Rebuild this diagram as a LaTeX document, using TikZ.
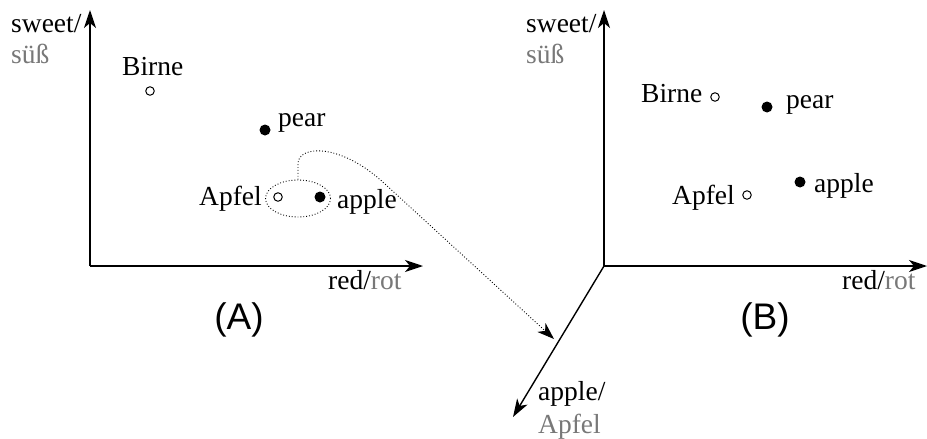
\documentclass[tikz,border=0pt]{standalone}
\usepackage{fontspec}
\setmainfont{Liberation Serif}
\newfontfamily\panelfont{Liberation Sans}
\usetikzlibrary{arrows.meta,shapes.geometric}
\definecolor{de}{gray}{0.47}
\tikzset{
  lbl/.style={anchor=base west,inner sep=0pt,font=\fontsize{27.5}{32}\selectfont},
  panel/.style={inner sep=0pt,font=\panelfont\fontsize{37}{42}\selectfont},
  axis/.style={line width=1.4pt,-{Stealth[length=18pt,width=12pt,inset=5pt]}},
  word/.style={circle,draw,line width=1pt,fill=white,minimum size=8.5pt,inner sep=0pt},
  wordfill/.style={circle,fill=black,minimum size=11pt,inner sep=0pt},
  link/.style={dotted,line width=0.9pt,-{Stealth[length=17pt,width=12pt,inset=5pt]}},
}
\begin{document}
\begin{tikzpicture}[x=1pt,y=-1pt]
\useasboundingbox (0,0) rectangle (927,439);

% ---- (A): two separate spaces
\coordinate (oA) at (90,266);
\coordinate (yA) at (90,10);
\coordinate (xA) at (423,266);
\draw[axis] (oA) -- (yA);
\draw[axis] (oA) -- (xA);
\node[lbl] (sweetA) at (11,32) {sweet/};
\node[lbl,text=de] (suesA) at (11,63) {süß};
\node[lbl] (redA) at (328,289) {red/\textcolor{de}{rot}};
\node[panel] (capA) at (239,320) {(A)};

\node[word] (birneA) at (150,91) {};
\node[lbl] (birneAt) at (122,75) {Birne};
\node[wordfill] (pearA) at (265,130) {};
\node[lbl] (pearAt) at (278,126) {pear};
\node[ellipse,draw,dotted,line width=0.9pt,minimum width=65pt,minimum height=37pt,inner sep=0pt] (grp) at (298,198.5) {};
\node[word] (apfelA) at (278,197) {};
\node[lbl] (apfelAt) at (199,205) {Apfel};
\node[wordfill] (appleA) at (320,197) {};
\node[lbl] (appleAt) at (337,208) {apple};

% ---- (B): shared space with a third axis
\coordinate (oB) at (604,266);
\coordinate (yB) at (604,10);
\coordinate (xB) at (927,266);
\coordinate (zB) at (513,417);
\draw[axis] (oB) -- (yB);
\draw[axis] (oB) -- (xB);
\draw[axis] (oB) -- (zB);
\node[lbl] (sweetB) at (526,32) {sweet/};
\node[lbl,text=de] (suesB) at (526,63) {süß};
\node[lbl] (redB) at (842,289) {red/\textcolor{de}{rot}};
\node[lbl] (appleZ) at (538,400) {apple/};
\node[lbl,text=de] (apfelZ) at (538,433) {Apfel};
\node[panel] (capB) at (765,320) {(B)};

\node[word] (birneB) at (715,97) {};
\node[lbl] (birneBt) at (641,102) {Birne};
\node[wordfill] (pearB) at (767,107) {};
\node[lbl] (pearBt) at (786,108) {pear};
\node[word] (apfelB) at (747,195) {};
\node[lbl] (apfelBt) at (672,204) {Apfel};
\node[wordfill] (appleB) at (800,182) {};
\node[lbl] (appleBt) at (814,192) {apple};

% ---- mapping of the word pair onto the new axis
\coordinate (hit) at (554,339);
\draw[link] (grp.north) -- ++(0,-16) .. controls +(0,-18) and (340,142) .. (385,184) -- (hit);
\end{tikzpicture}
\end{document}
